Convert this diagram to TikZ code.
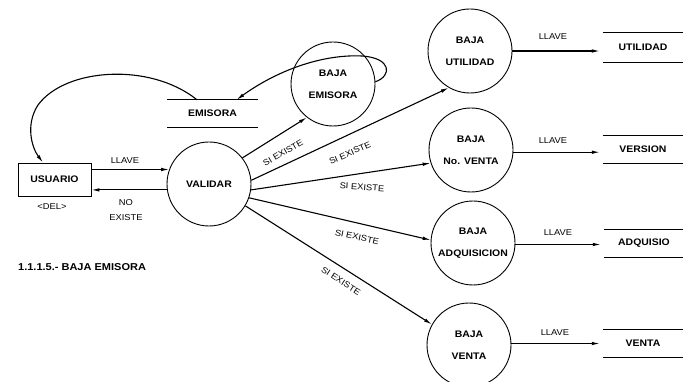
\documentclass[tikz,border=0pt]{standalone}
\usepackage{fontspec}
\newfontfamily\dfont{Liberation Sans}[FakeStretch=1.1]
\usetikzlibrary{arrows.meta}
\begin{document}
\begin{tikzpicture}[x=1pt,y=-1pt,
  proc/.style={circle,draw,line width=0.9pt,minimum size=84pt,inner sep=0pt,
    align=center,font=\dfont\fontsize{9.5}{22}\selectfont\bfseries},
  ent/.style={draw,line width=0.9pt,minimum width=73pt,minimum height=33pt,
    inner sep=0pt,font=\dfont\fontsize{9.5}{11}\selectfont\bfseries},
  store/.style={minimum width=80pt,minimum height=28pt,inner sep=0pt,
    font=\dfont\fontsize{9.5}{11}\selectfont\bfseries},
  sline/.style={line width=1.1pt},
  lbl/.style={inner sep=0pt,align=center,font=\dfont\fontsize{8.5}{15}\selectfont},
  captxt/.style={inner sep=0pt,font=\dfont\fontsize{10}{12}\selectfont\bfseries},
  arr/.style={line width=1.1pt,-{Latex[length=8pt,width=3.6pt]}}]
\useasboundingbox (0,0) rectangle (683,382);

% processes
\node[proc] (va) at (209,184) {VALIDAR};
\node[proc] (be) at (333,84) {BAJA\\EMISORA};
\node[proc] (bu) at (470,51) {BAJA\\UTILIDAD};
\node[proc] (bn) at (471,150) {BAJA\\No. VENTA};
\node[proc] (ba) at (473,243) {BAJA\\ADQUISICION};
\node[proc] (bv) at (469,345) {BAJA\\VENTA};

% external entity
\node[ent] (us) at (54.5,179.5) {USUARIO};

% data stores
\node[store,minimum width=91pt,minimum height=27pt] (se) at (212.5,113.5) {EMISORA};
\node[store,minimum height=29pt] (su) at (643,47.5) {UTILIDAD};
\node[store,minimum height=27pt] (sv) at (643,149.5) {VERSION};
\node[store,minimum height=27pt] (sa) at (644,243.5) {ADQUISIO};
\node[store,minimum height=27pt] (sn) at (643,343.5) {VENTA};
\foreach \s in {se,su,sv,sa,sn}
  \draw[sline] (\s.north west) -- (\s.north east) (\s.south west) -- (\s.south east);

% flows between user and validation
\draw[arr] (us.east |- va.160) -- (va.160);
\draw[arr] (va.188) -- (us.east |- va.188);
\node[lbl] (llu) at (125,161) {LLAVE};
\node[lbl] (nex) at (126,210) {NO\\EXISTE};
\node[lbl] (del) at (52,207) {<DEL>};

% flows out of VALIDAR
\draw[arr] (va.38) -- (be.232);
\draw[arr] (va.5) -- (bu.240);
\draw[arr] (va.-8) -- (bn.198);
\draw[arr] (va.-19) -- (ba.176);
\draw[arr] (va.-31) -- (bv.151);
\node[lbl,rotate=30] (s1) at (283,153) {SI EXISTE};
\node[lbl,rotate=24] (s2) at (350,153) {SI EXISTE};
\node[lbl,rotate=-4] (s3) at (362,187) {SI EXISTE};
\node[lbl,rotate=-12] (s4) at (357,237) {SI EXISTE};
\node[lbl,rotate=-33] (s5) at (341,281) {SI EXISTE};

% key flows into the stores
\draw[arr,shorten >=3pt] (bu.east) -- (su.west |- bu.east);
\draw[arr,shorten >=3pt] (bn.-3) -- (sv.west |- bn.-3);
\draw[arr,shorten >=3pt] (ba.-2) -- (sa.west |- ba.-2);
\draw[arr,shorten >=3pt] (bv.2) -- (sn.west |- bv.2);
\node[lbl] (k1) at (553,37) {LLAVE};
\node[lbl] (k2) at (553,141) {LLAVE};
\node[lbl] (k3) at (558,233) {LLAVE};
\node[lbl] (k4) at (555,333) {LLAVE};

% store loops
\draw[arr] (be.3) .. controls (392,76) and (392,58) .. (362,56)
  .. controls (320,54) and (275,72) .. ([xshift=24pt]se.north);
\draw[arr] ([xshift=-15.5pt]se.north) .. controls (150,62) and (65,68) .. (38,105)
  .. controls (25,125) and (32,148) .. ([xshift=-11.5pt]us.north);

% caption
\node[captxt,anchor=west] (title) at (18,267) {1.1.1.5.- BAJA EMISORA};
\end{tikzpicture}
\end{document}
